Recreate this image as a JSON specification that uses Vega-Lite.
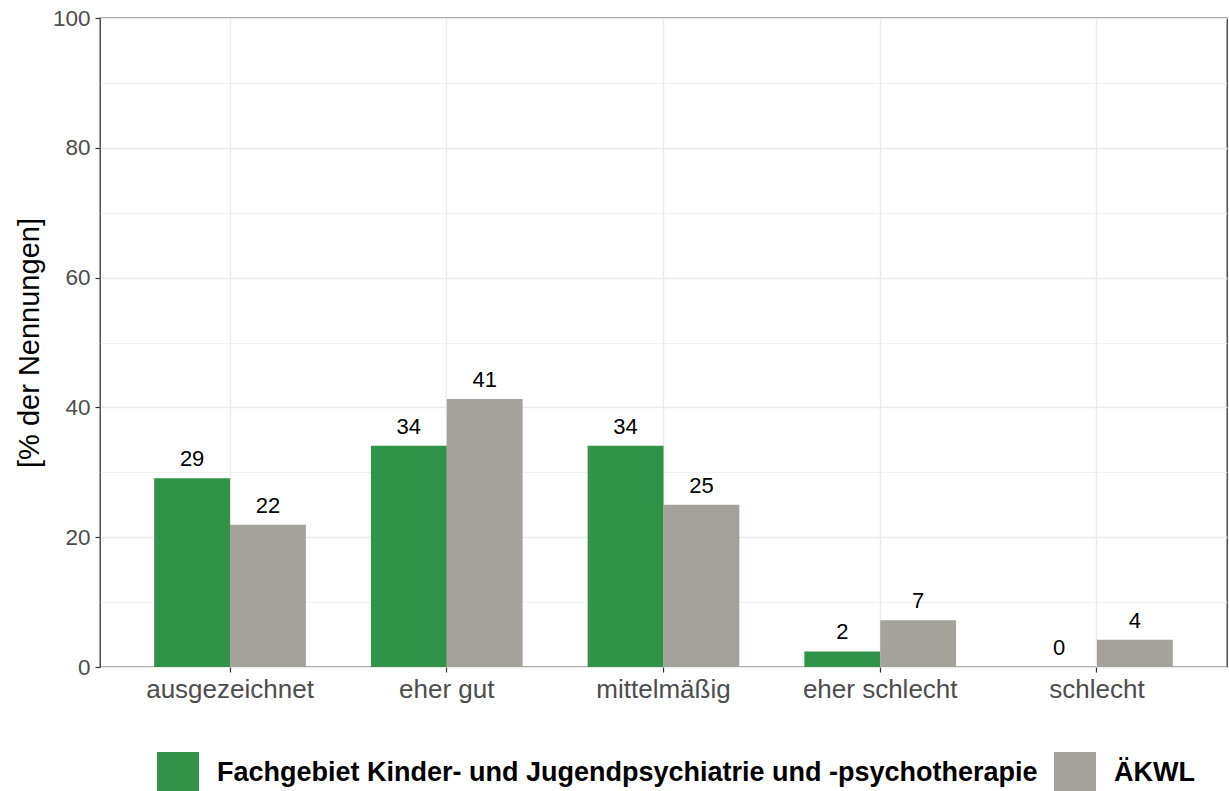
{
  "$schema": "https://vega.github.io/schema/vega-lite/v6.json",
  "width": 1127,
  "height": 649,
  "autosize": {"type": "none"},
  "padding": {"left": 100, "top": 18, "right": 2, "bottom": 124},
  "background": "white",
  "data": {
    "values": [
      {"kategorie": "ausgezeichnet", "gruppe": "Fachgebiet Kinder- und Jugendpsychiatrie und -psychotherapie", "wert": 29.1},
      {"kategorie": "ausgezeichnet", "gruppe": "ÄKWL", "wert": 21.9},
      {"kategorie": "eher gut", "gruppe": "Fachgebiet Kinder- und Jugendpsychiatrie und -psychotherapie", "wert": 34.1},
      {"kategorie": "eher gut", "gruppe": "ÄKWL", "wert": 41.3},
      {"kategorie": "mittelmäßig", "gruppe": "Fachgebiet Kinder- und Jugendpsychiatrie und -psychotherapie", "wert": 34.1},
      {"kategorie": "mittelmäßig", "gruppe": "ÄKWL", "wert": 25.0},
      {"kategorie": "eher schlecht", "gruppe": "Fachgebiet Kinder- und Jugendpsychiatrie und -psychotherapie", "wert": 2.4},
      {"kategorie": "eher schlecht", "gruppe": "ÄKWL", "wert": 7.2},
      {"kategorie": "schlecht", "gruppe": "Fachgebiet Kinder- und Jugendpsychiatrie und -psychotherapie", "wert": 0},
      {"kategorie": "schlecht", "gruppe": "ÄKWL", "wert": 4.2}
    ]
  },
  "encoding": {
    "x": {
      "field": "kategorie",
      "type": "nominal",
      "sort": ["ausgezeichnet", "eher gut", "mittelmäßig", "eher schlecht", "schlecht"],
      "scale": {"paddingInner": 0.3, "paddingOuter": 0.25},
      "axis": {
        "title": null,
        "labelAngle": 0,
        "labelFontSize": 26,
        "labelColor": "#4d4d4d",
        "labelPadding": 4,
        "tickColor": "#333333",
        "tickSize": 5,
        "tickWidth": 1.2,
        "domain": false,
        "grid": true,
        "gridColor": "#ebebeb",
        "gridWidth": 1.4,
        "bandPosition": 0.5
      }
    },
    "xOffset": {
      "field": "gruppe",
      "sort": ["Fachgebiet Kinder- und Jugendpsychiatrie und -psychotherapie", "ÄKWL"]
    }
  },
  "layer": [
    {
      "mark": {"type": "bar"},
      "encoding": {
        "y": {
          "field": "wert",
          "type": "quantitative",
          "scale": {"domain": [0, 100], "nice": false, "zero": true},
          "axis": {
            "values": [0, 20, 40, 60, 80, 100],
            "title": "[% der Nennungen]",
            "titleFontSize": 29,
            "titleFontWeight": "normal",
            "titleColor": "black",
            "titlePadding": 8,
            "labelFontSize": 22.5,
            "labelColor": "#4d4d4d",
            "labelPadding": 5,
            "tickColor": "#333333",
            "tickSize": 5,
            "tickWidth": 1.2,
            "domain": false,
            "grid": true,
            "gridColor": "#ebebeb",
            "gridWidth": 1.4
          }
        },
        "color": {
          "field": "gruppe",
          "type": "nominal",
          "scale": {
            "domain": ["Fachgebiet Kinder- und Jugendpsychiatrie und -psychotherapie", "ÄKWL"],
            "range": ["#319249", "#a5a29b"]
          },
          "legend": {
            "title": null,
            "orient": "none",
            "legendX": 57,
            "legendY": 734,
            "direction": "horizontal",
            "symbolType": "square",
            "symbolSize": 1764,
            "symbolStrokeWidth": 0,
            "labelFontSize": 27,
            "labelFontWeight": "bold",
            "labelColor": "black",
            "labelOffset": 18,
            "labelLimit": 2000,
            "columnPadding": 16
          }
        }
      }
    },
    {
      "mark": {"type": "text", "fontSize": 22, "color": "black", "baseline": "alphabetic", "dy": -12},
      "encoding": {
        "y": {
          "field": "wert",
          "type": "quantitative",
          "axis": {
            "values": [10, 30, 50, 70, 90],
            "title": null,
            "labels": false,
            "ticks": false,
            "domain": false,
            "grid": true,
            "gridColor": "#ebebeb",
            "gridWidth": 0.7
          }
        },
        "text": {"field": "wert", "type": "quantitative", "format": ".0f"}
      }
    }
  ],
  "resolve": {"axis": {"y": "independent"}},
  "config": {
    "font": "Liberation Sans",
    "view": {"stroke": "#333333", "strokeWidth": 1.3}
  }
}
